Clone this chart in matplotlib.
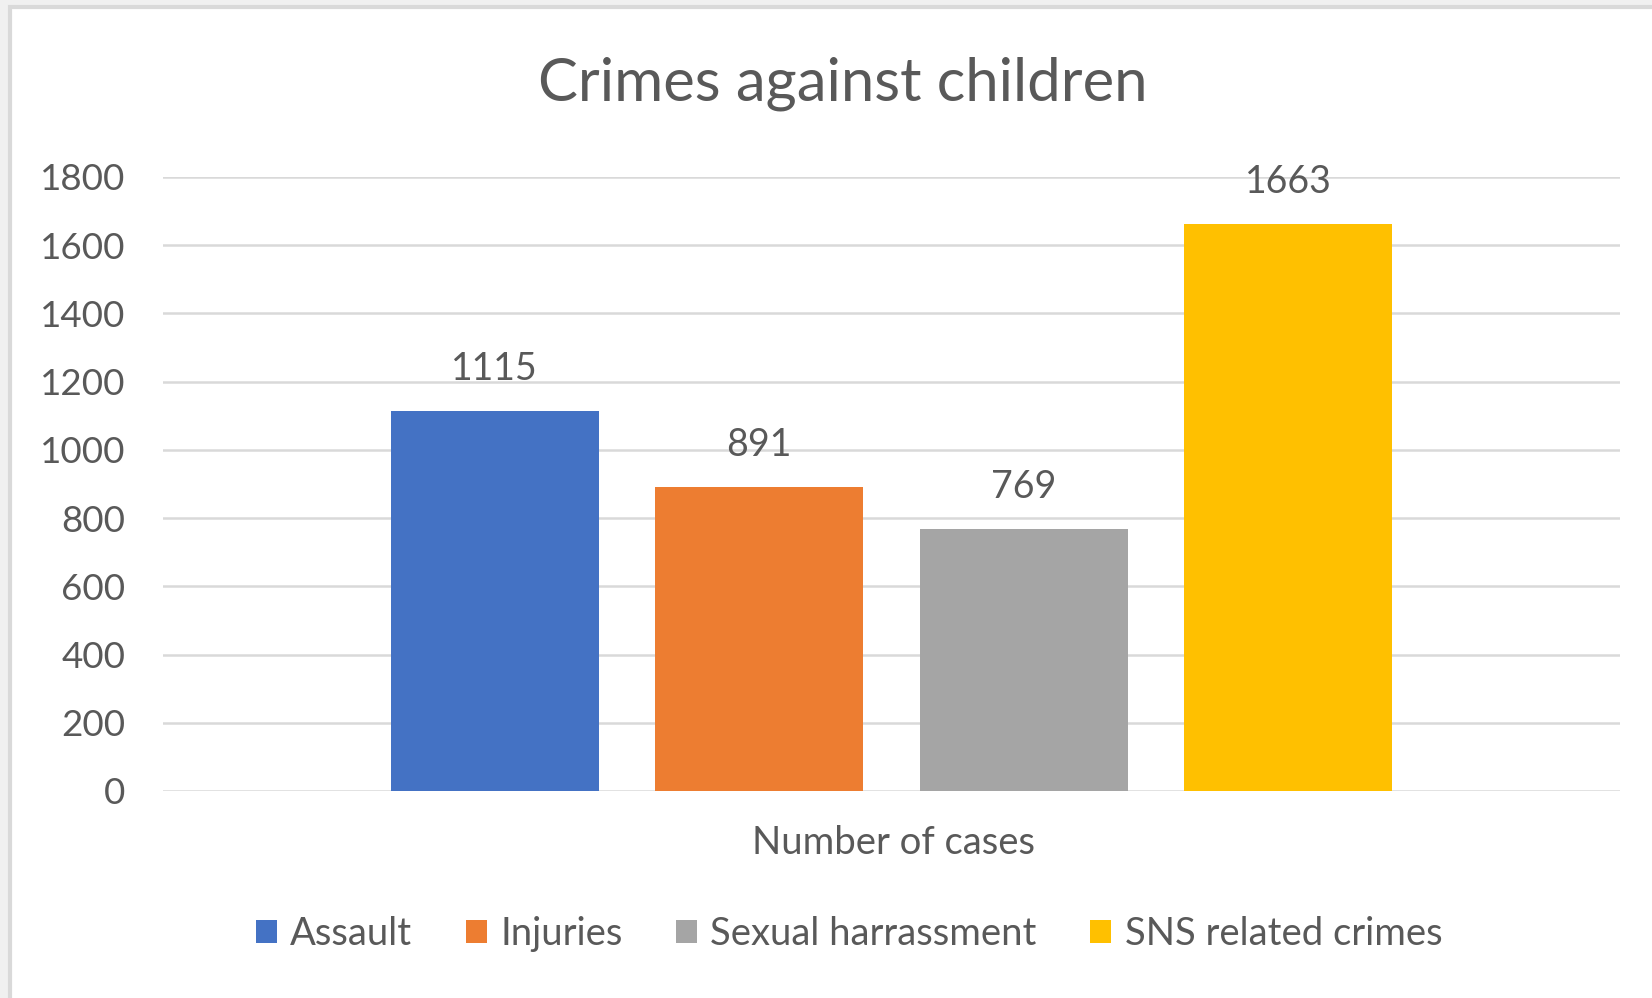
import matplotlib.pyplot as plt
import numpy as np
from matplotlib.patches import Rectangle, Patch

series = ["Assault", "Injuries", "Sexual harrassment", "SNS related crimes"]
cases = [1115, 891, 769, 1663]
colors = ["#4472C4", "#ED7D31", "#A5A5A5", "#FFC000"]
yticks = [0, 200, 400, 600, 800, 1000, 1200, 1400, 1600, 1800]

plt.rcParams['font.family'] = ['Lato', 'DejaVu Sans']
txt = '#595959'

fig = plt.figure(figsize=(16.52, 9.98), dpi=100, facecolor='#f0f0f0')
# white chart area with thin border (screenshot frame)
fig.patches.append(Rectangle((10 / 1652, -0.05), 1.1, 1.05 - 7 / 998, transform=fig.transFigure,
                             facecolor='white', edgecolor='#d9d9d9', linewidth=3, zorder=-5))

ax = fig.add_axes([163 / 1652, 1 - 791 / 998, (1620 - 163) / 1652, (791 - 177) / 998])
ax.set_facecolor('none')
x = np.arange(len(series))
bars = ax.bar(x, cases, width=0.786, color=colors, zorder=3)
ax.bar_label(bars, labels=[str(v) for v in cases], padding=17, fontsize=27, color=txt)

ax.set_xlim(-1.255, 4.255)
ax.set_ylim(0, 1800)
ax.set_yticks(yticks)
ax.set_yticklabels([str(t) for t in yticks], fontsize=26.5, color=txt)
ax.set_xticks([])
ax.tick_params(axis='y', length=0, pad=27)
ax.grid(axis='y', color='#d9d9d9', linewidth=1.8, zorder=0)
for s in ax.spines.values():
    s.set_visible(False)

fig.text(843 / 1652, 1 - 84 / 998, "Crimes against children",
         ha='center', va='center', fontsize=43, color=txt)
fig.text(893 / 1652, 1 - 843 / 998, "Number of cases", ha='center', va='center',
         fontsize=27.5, color=txt)

handles = [Patch(facecolor=c, edgecolor='none') for c in colors]
fig.legend(handles, series, loc='center', bbox_to_anchor=(849 / 1652, 1 - 934 / 998), ncol=4,
           frameon=False, fontsize=27.5, labelcolor=txt, handlelength=0.55, handleheight=0.55,
           handletextpad=0.35, columnspacing=1.4)

fig.savefig('out.png', dpi=100, facecolor=fig.get_facecolor())
